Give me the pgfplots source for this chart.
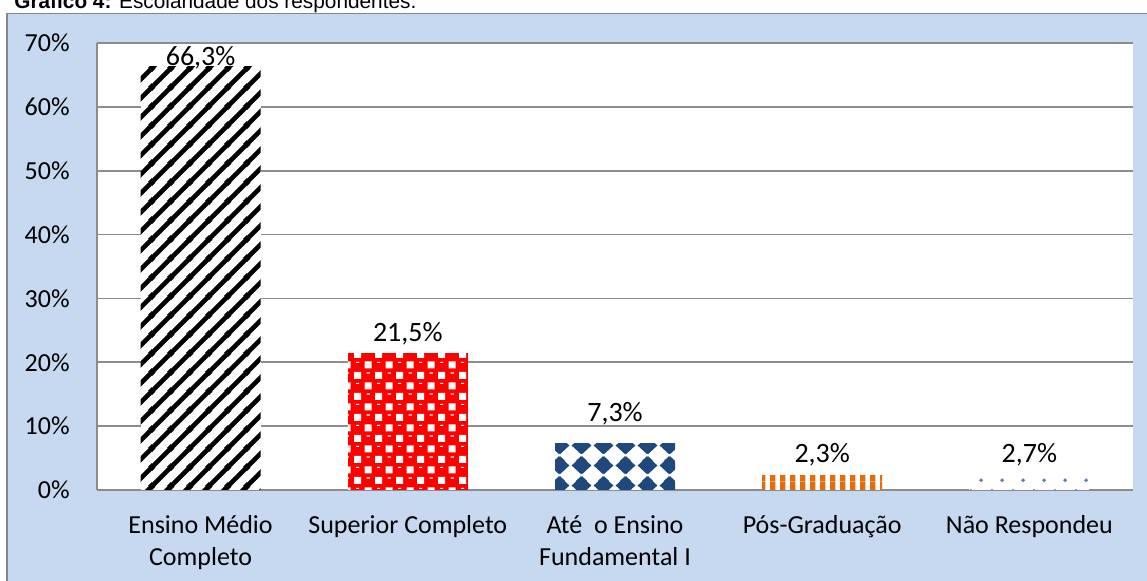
\documentclass[border=0pt]{standalone}
\usepackage{pgfplots}
\pgfplotsset{compat=1.18}
\usepackage{fontspec}
\setmainfont{Carlito}
\newfontfamily\arialfont{Liberation Sans}
\usetikzlibrary{patterns}

\definecolor{bgblue}{RGB}{198,217,241}
\definecolor{framegray}{RGB}{134,134,134}
\definecolor{gridgray}{RGB}{140,140,140}
\definecolor{barred}{RGB}{255,0,0}
\definecolor{darkblue}{RGB}{31,73,125}
\definecolor{barorange}{RGB}{228,108,10}
\definecolor{dotblue}{RGB}{79,129,189}

\pgfdeclarepatternformonly{diagstripes}{\pgfpointorigin}{\pgfpoint{9.5pt}{9.5pt}}{\pgfpoint{9.5pt}{9.5pt}}{%
  \pgfsetlinewidth{2.4pt}%
  \pgfpathmoveto{\pgfpoint{-1pt}{-1pt}}\pgfpathlineto{\pgfpoint{10.5pt}{10.5pt}}%
  \pgfpathmoveto{\pgfpoint{-10.5pt}{-1pt}}\pgfpathlineto{\pgfpoint{1pt}{10.5pt}}%
  \pgfpathmoveto{\pgfpoint{8.5pt}{-1pt}}\pgfpathlineto{\pgfpoint{20pt}{10.5pt}}%
  \pgfusepath{stroke}%
}
% white squares (checkerboard) plus small highlights on the red balls
\pgfdeclarepatternformonly{redsq}{\pgfpointorigin}{\pgfpoint{10.7pt}{10.7pt}}{\pgfpoint{10.7pt}{10.7pt}}{%
  \pgfpathrectangle{\pgfpoint{0.875pt}{0.875pt}}{\pgfpoint{3.6pt}{3.6pt}}%
  \pgfpathrectangle{\pgfpoint{6.225pt}{6.225pt}}{\pgfpoint{3.6pt}{3.6pt}}%
  \pgfpathrectangle{\pgfpoint{7.225pt}{3.6pt}}{\pgfpoint{1.6pt}{0.6pt}}%
  \pgfpathrectangle{\pgfpoint{1.875pt}{8.95pt}}{\pgfpoint{1.6pt}{0.6pt}}%
  \pgfusepath{fill}%
}
% diamonds centred at (0.5pt, 8pt) modulo the tile, drawn with wrapped copies
\def\diamondat#1#2{%
  \pgfpathmoveto{\pgfpoint{#1-4.8pt}{#2}}\pgfpathlineto{\pgfpoint{#1}{#2+4.5pt}}%
  \pgfpathlineto{\pgfpoint{#1+4.8pt}{#2}}\pgfpathlineto{\pgfpoint{#1}{#2-4.5pt}}\pgfpathclose}
\pgfdeclarepatternformonly{diamonds}{\pgfpointorigin}{\pgfpoint{10.75pt}{10pt}}{\pgfpoint{10.75pt}{10pt}}{%
  \diamondat{0.5pt}{8pt}\diamondat{11.25pt}{8pt}\diamondat{0.5pt}{-2pt}\diamondat{11.25pt}{-2pt}%
  \pgfusepath{fill}%
}
\pgfdeclarepatternformonly{vstripes}{\pgfpointorigin}{\pgfpoint{5pt}{5pt}}{\pgfpoint{5pt}{5pt}}{%
  \pgfpathrectangle{\pgfpointorigin}{\pgfpoint{3pt}{5pt}}%
  \pgfusepath{fill}%
}
\pgfdeclarepatternformonly{sparsedots}{\pgfpointorigin}{\pgfpoint{10.5pt}{10.7pt}}{\pgfpoint{10.5pt}{10.7pt}}{%
  \pgfpathcircle{\pgfpoint{2.6pt}{2.7pt}}{1pt}%
  \pgfpathcircle{\pgfpoint{7.85pt}{8.05pt}}{1pt}%
  \pgfusepath{fill}%
}

\begin{document}
\begin{tikzpicture}
\useasboundingbox (0,0) rectangle (573.5pt,290.5pt);
\clip (0,0) rectangle (573.5pt,290.5pt);
\fill[bgblue] (3.5pt,-10pt) rectangle (590pt,283.75pt);
\draw[framegray, line width=0.75pt] (3.5pt,-10pt) -- (3.5pt,283.75pt) -- (590pt,283.75pt);
\node[anchor=base west, inner sep=0pt, font=\arialfont\fontsize{10.4pt}{12pt}\selectfont] at (7pt,286.25pt) {\textbf{Gráfico 4:} Escolaridade dos respondentes.};
\begin{axis}[
  at={(48.5pt,45.5pt)}, anchor=south west,
  scale only axis, width=518pt, height=223.5pt,
  xmin=-0.5, xmax=4.5, ymin=0, ymax=70,
  axis background/.style={fill=white},
  axis x line*=bottom, axis y line*=left,
  axis line style={-, draw=gridgray, line width=0.8pt},
  ymajorgrids, grid style={gridgray, line width=0.8pt},
  major tick length=0pt,
  ytick={0,10,...,70},
  yticklabels={0\%,10\%,20\%,30\%,40\%,50\%,60\%,70\%},
  yticklabel style={anchor=east, inner sep=0pt, xshift=-13.5pt, font=\fontsize{13pt}{15.9pt}\selectfont},
  xtick={0,1,2,3,4},
  xticklabels={{Ensino Médio\\Completo},{Superior Completo},{Até\ \ o Ensino\\Fundamental I},{Pós-Graduação},{Não Respondeu}},
  xticklabel style={anchor=north, align=center, inner sep=0pt, yshift=-12.5pt, font=\fontsize{13pt}{15.9pt}\selectfont},
  clip=false,
]
\addplot[ybar, bar width=60pt, bar shift=0pt, draw=none, fill=white,
  postaction={pattern=diagstripes, pattern color=black}] coordinates {(0,66.3)};
\addplot[ybar, bar width=60pt, bar shift=0pt, draw=none, fill=barred,
  postaction={pattern=redsq, pattern color=white}] coordinates {(1,21.5)};
\addplot[ybar, bar width=60pt, bar shift=0pt, draw=none, fill=white,
  postaction={pattern=diamonds, pattern color=darkblue}] coordinates {(2,7.3)};
\addplot[ybar, bar width=60pt, bar shift=0pt, draw=none, fill=white,
  postaction={pattern=vstripes, pattern color=barorange}] coordinates {(3,2.3)};
\addplot[ybar, bar width=60pt, bar shift=0pt, draw=none, fill=white,
  postaction={pattern=sparsedots, pattern color=dotblue}] coordinates {(4,2.7)};
\addplot[draw=none, mark=none, nodes near coords, point meta=explicit symbolic,
  every node near coord/.append style={anchor=base, inner sep=0pt, font=\fontsize{14pt}{16pt}\selectfont, text=black}]
  coordinates {(0,66.55)[66,3\%] (1,23.18)[21,5\%] (2,10.65)[7,3\%] (3,4.23)[2,3\%] (4,4.38)[2,7\%]};
\end{axis}
\end{tikzpicture}
\end{document}
